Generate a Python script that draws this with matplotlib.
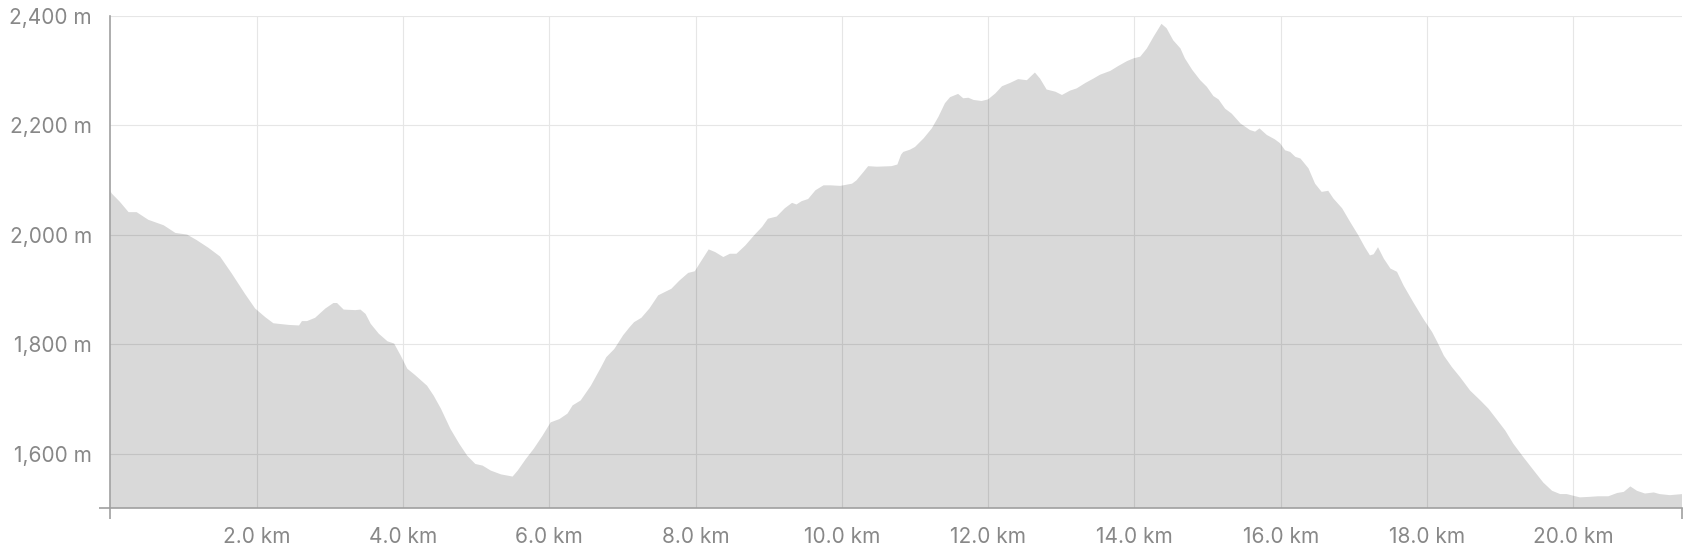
import matplotlib
matplotlib.use("Agg")
import matplotlib.pyplot as plt
from matplotlib.ticker import FuncFormatter

# distance along route (km) and elevation (m)
distance_km = [0.00, 0.02, 0.13, 0.25, 0.36, 0.52, 0.73, 0.89, 1.05, 1.18, 1.34, 1.50, 1.66, 1.84, 1.98,
               2.12, 2.23, 2.44, 2.58, 2.62, 2.69, 2.80, 2.94, 3.05, 3.10, 3.19, 3.35, 3.42, 3.49, 3.56,
               3.67, 3.79, 3.88, 3.97, 4.06, 4.17, 4.33, 4.42, 4.52, 4.65, 4.77, 4.88, 4.99, 5.09, 5.20,
               5.34, 5.50, 5.57, 5.68, 5.79, 5.91, 6.02, 6.14, 6.25, 6.32, 6.43, 6.57, 6.71, 6.78, 6.89,
               7.01, 7.10, 7.16, 7.26, 7.37, 7.49, 7.58, 7.67, 7.78, 7.90, 7.99, 8.07, 8.18, 8.27, 8.38,
               8.47, 8.56, 8.68, 8.81, 8.91, 8.99, 9.11, 9.22, 9.32, 9.38, 9.45, 9.54, 9.64, 9.75, 9.84,
               9.98, 10.14, 10.20, 10.30, 10.36, 10.48, 10.68, 10.76, 10.81, 10.84, 10.93, 11.00, 11.12,
               11.23, 11.32, 11.41, 11.48, 11.59, 11.66, 11.73, 11.80, 11.91, 12.00, 12.10, 12.19, 12.30,
               12.41, 12.53, 12.60, 12.64, 12.71, 12.80, 12.92, 13.01, 13.12, 13.21, 13.33, 13.44, 13.53,
               13.67, 13.78, 13.90, 13.99, 14.08, 14.17, 14.26, 14.37, 14.44, 14.53, 14.63, 14.69, 14.79,
               14.90, 14.99, 15.08, 15.15, 15.24, 15.33, 15.45, 15.58, 15.65, 15.71, 15.81, 15.92, 15.99,
               16.06, 16.13, 16.20, 16.27, 16.38, 16.47, 16.56, 16.65, 16.72, 16.84, 16.95, 17.06, 17.15,
               17.22, 17.27, 17.33, 17.41, 17.50, 17.59, 17.68, 17.81, 17.95, 18.07, 18.14, 18.23, 18.34,
               18.45, 18.59, 18.73, 18.84, 18.95, 19.07, 19.18, 19.32, 19.46, 19.59, 19.71, 19.82, 19.91,
               20.00, 20.09, 20.23, 20.34, 20.48, 20.60, 20.69, 20.78, 20.87, 20.98, 21.10, 21.18, 21.32,
               21.49]
elevation_m = [2080, 2075, 2060, 2041, 2041, 2027, 2017, 2003, 2000, 1990, 1976, 1960, 1929, 1892, 1865,
               1849, 1838, 1835, 1834, 1842, 1842, 1848, 1865, 1875, 1875, 1863, 1862, 1863, 1855, 1837,
               1819, 1805, 1801, 1779, 1755, 1743, 1724, 1706, 1682, 1645, 1618, 1596, 1581, 1578, 1569,
               1562, 1558, 1569, 1590, 1609, 1633, 1657, 1663, 1673, 1688, 1697, 1724, 1758, 1776, 1791,
               1816, 1831, 1840, 1848, 1865, 1889, 1895, 1901, 1916, 1930, 1933, 1950, 1973, 1968, 1959,
               1965, 1965, 1980, 2000, 2014, 2029, 2033, 2048, 2058, 2055, 2061, 2065, 2081, 2090, 2090,
               2089, 2093, 2099, 2115, 2125, 2124, 2125, 2128, 2146, 2151, 2155, 2160, 2176,
               2194, 2215, 2240, 2251, 2257, 2249, 2250, 2246, 2244, 2247, 2258, 2271, 2277,
               2284, 2282, 2291, 2296, 2285, 2265, 2261, 2255, 2263, 2267, 2277, 2285, 2292,
               2299, 2308, 2317, 2322, 2325, 2340, 2361, 2385, 2377, 2355, 2340, 2322, 2301,
               2282, 2270, 2253, 2247, 2230, 2221, 2203, 2191, 2188, 2194, 2182, 2174, 2167,
               2154, 2151, 2142, 2139, 2121, 2093, 2078, 2080, 2066, 2048, 2023, 1999, 1977,
               1962, 1964, 1977, 1956, 1938, 1932, 1907, 1877, 1846, 1822, 1804, 1779, 1758,
               1740, 1715, 1697, 1682, 1663, 1642, 1618, 1593, 1569, 1547, 1532, 1526, 1526,
               1523, 1520, 1521, 1522, 1522, 1528, 1530, 1540, 1532, 1527, 1529, 1526, 1524,
               1526]

x_ticks = [2, 4, 6, 8, 10, 12, 14, 16, 18, 20]
y_ticks = [1600, 1800, 2000, 2200, 2400]
y_min, y_max = 1500, 2400

plt.rcParams['font.family'] = ['Inter', 'DejaVu Sans']

fig = plt.figure(figsize=(17, 5.5), dpi=100)
ax = fig.add_axes([110.3 / 1700, 1 - 508.3 / 550, (1682.3 - 110.3) / 1700, (508.3 - 15.6) / 550])

x_max = distance_km[-1]
ax.set_xlim(0, x_max)
ax.set_ylim(y_min, y_max)

ax.set_xticks(x_ticks)
ax.set_yticks(y_ticks)
ax.xaxis.set_major_formatter(FuncFormatter(lambda v, p: f"{v:.1f} km"))
ax.yaxis.set_major_formatter(FuncFormatter(lambda v, p: f"{v:,.0f} m"))

ax.grid(True, color='#e6e6e6', linewidth=0.8)
ax.set_axisbelow(True)

ax.fill_between(distance_km, elevation_m, y_min, facecolor='black', alpha=0.15,
                linewidth=0, zorder=2)

for s in ['top', 'right']:
    ax.spines[s].set_visible(False)
for s in ['left', 'bottom']:
    ax.spines[s].set_color('#a0a0a0')
    ax.spines[s].set_linewidth(1.2)
    ax.spines[s].set_zorder(3)

ax.tick_params(which='major', length=0, labelsize=15, labelcolor='#888888')
ax.tick_params(axis='y', which='major', pad=13.2)
ax.tick_params(axis='x', which='major', pad=13.5)

# outer ticks at the ends of the domain
ax.set_xticks([0, x_max], minor=True)
ax.set_yticks([y_min, y_max], minor=True)
ax.tick_params(which='minor', length=8, width=1.2, color='#a0a0a0', direction='out')

fig.savefig('out.png', dpi=100, facecolor='white')
